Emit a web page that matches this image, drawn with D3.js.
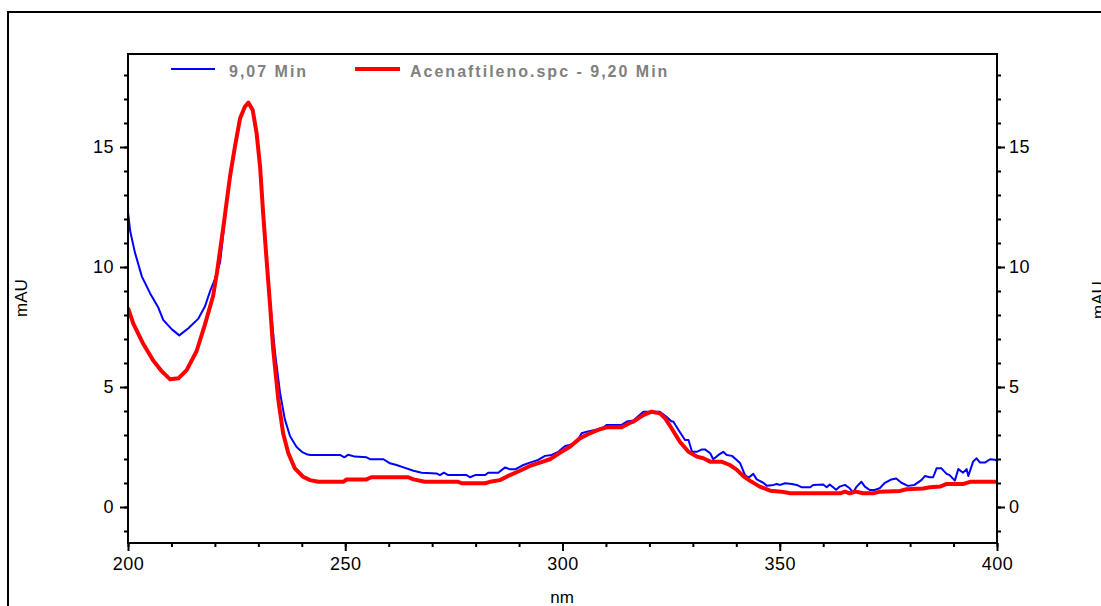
<!DOCTYPE html>
<html>
<head>
<meta charset="utf-8">
<title>Acenaftileno</title>
<script src="https://d3js.org/d3.v7.min.js"></script>
<style>
    body { margin: 0; background: white; }
    text { font-family: "Liberation Sans", Arial, sans-serif; }
    .axis text { font-size: 18px; fill: black; letter-spacing: 0.5px; }
    .axis path { display: none; }
    .axis line { stroke: black; stroke-width: 2px; }
    .legend { font-size: 16px; font-weight: bold; fill: #808080; letter-spacing: 2px; }
</style>
</head>
<body>
<script>
    // 9,07 Min (blue)
    let blueNm = [200, 200.5, 201.6, 203.2, 205.1, 207, 208.1, 210.1, 211.8, 213.9, 216.2, 217.7, 218.9, 220, 221.2, 222,
        223.5, 224.6, 225.8, 226.9, 227.7, 228.7, 229.6, 230.4, 231.1, 231.9, 232.7, 233.8, 235, 236.1, 237.3, 238.8, 240, 241.1, 242,
        248.8, 249.8, 250.7, 252.2, 254.9, 255.7, 258.8, 260.3, 261.8, 263.4, 265.7, 267.6, 271, 271.8, 272.7, 273.7, 277.9, 278.7, 279.9,
        282.2, 282.9, 285.2, 286.8, 287.9, 289.1, 291, 292.5, 294.4, 296, 297.5, 299, 300.6, 301.7, 303.3, 304.4, 305.6, 307.5, 309.4,
        310.2, 313.6, 314.8, 316.3, 318.6, 322.4, 324, 325.1, 325.5, 326.7, 328.2, 329, 329.8, 330.9, 332.1, 332.8, 334, 334.7, 335.9,
        337, 337.8, 339, 340.1, 340.9, 342, 342.8, 343.9, 344.7, 346.2, 347, 348.6, 349.3, 350.1, 351.2, 352.8, 353.9, 355.1, 357, 357.7,
        360, 360.8, 361.5, 363, 363.8, 365, 366.1, 366.9, 367.7, 368.8, 369.6, 370.7, 371.8, 373, 374.1, 375.7, 376.8, 378, 379.5, 381,
        382.6, 383.4, 384.5, 385.3, 386.1, 387.2, 388.4, 389.1, 390.3, 391.1, 392.2, 393, 393.4, 394.5, 395.3, 396.1, 397.2, 398.4, 399.5, 400];
    let blueAU = [12.3, 11.5, 10.6, 9.6, 8.9, 8.3, 7.8, 7.4, 7.15, 7.45, 7.85, 8.35, 9.0, 9.5, 10.2, 11.5,
        13.9, 15.1, 16.25, 16.7, 16.8, 16.5, 15.6, 14.2, 12.3, 10.3, 8.6, 6.5, 4.75, 3.65, 2.95, 2.5, 2.3, 2.2, 2.17,
        2.17, 2.07, 2.18, 2.1, 2.07, 1.99, 1.99, 1.82, 1.75, 1.65, 1.51, 1.43, 1.4, 1.33, 1.43, 1.33, 1.33, 1.24, 1.33,
        1.33, 1.43, 1.43, 1.65, 1.57, 1.57, 1.75, 1.85, 1.96, 2.13, 2.17, 2.3, 2.54, 2.58, 2.72, 3.07, 3.14, 3.21, 3.31,
        3.42, 3.42, 3.56, 3.6, 3.97, 3.97, 3.75, 3.56, 3.56, 3.21, 2.79, 2.79, 2.3, 2.3, 2.4, 2.4, 2.24, 1.99, 2.17,
        2.3, 2.17, 2.13, 1.96, 1.82, 1.33, 1.22, 1.38, 1.15, 1.01, 0.89, 0.92, 0.96, 0.92, 0.99, 0.96, 0.92, 0.82, 0.82, 0.92,
        0.94, 0.82, 0.94, 0.72, 0.85, 0.92, 0.78, 0.6, 0.85, 1.05, 0.85, 0.71, 0.71, 0.78, 0.99, 1.15, 1.19, 1.01, 0.88, 0.92,
        1.12, 1.29, 1.24, 1.24, 1.61, 1.61, 1.38, 1.33, 1.1, 1.58, 1.43, 1.58, 1.29, 1.89, 2.03, 1.85, 1.85, 1.99, 1.97, 1.92];

    // Acenaftileno.spc - 9,20 Min (red)
    let redNm = [200, 201.2, 203.5, 205.8, 207.8, 209.7, 211.6, 213.5, 215.8, 217.7, 219.6, 220.5, 221.9, 223.5, 224.6, 225.8,
        226.9, 227.7, 228.7, 229.6, 230.4, 231.1, 231.9, 232.7, 233.4, 234.6, 235.7, 236.9, 238.4, 240.3, 241.9, 243.8, 249.6, 250.3,
        254.9, 256, 264.5, 265.7, 268.3, 276, 276.8, 282.2, 283.3, 285.6, 287.9, 290.2, 292.5, 294.8, 297.1, 299.4, 301.7, 304, 306.3,
        308.6, 310.2, 313.6, 315.5, 316.3, 318.6, 320.5, 322.4, 323.6, 325.1, 327, 329, 330.9, 332.4, 334, 336.6, 338.5, 340, 341.6,
        343.1, 345.4, 347.8, 350.4, 352.4, 363.9, 365, 366.1, 367.5, 369.2, 371.5, 373.1, 377.7, 379.2, 383, 384.6, 386.9, 388.4,
        392.3, 393.8, 400];
    let redAU = [8.3, 7.65, 6.8, 6.1, 5.65, 5.32, 5.36, 5.7, 6.5, 7.6, 8.8, 9.8, 11.6, 13.8, 15.0, 16.2,
        16.68, 16.85, 16.54, 15.57, 14.18, 12.24, 10.29, 8.4, 6.6, 4.46, 3.07, 2.24, 1.61, 1.26, 1.12, 1.05, 1.05, 1.15,
        1.15, 1.24, 1.24, 1.15, 1.05, 1.05, 0.99, 0.99, 1.05, 1.12, 1.33, 1.51, 1.71, 1.85, 1.99, 2.26, 2.51, 2.86, 3.07,
        3.24, 3.32, 3.32, 3.5, 3.56, 3.83, 3.97, 3.9, 3.7, 3.28, 2.72, 2.3, 2.1, 2.03, 1.89, 1.89, 1.75, 1.57, 1.29,
        1.1, 0.85, 0.68, 0.64, 0.57, 0.57, 0.64, 0.57, 0.64, 0.57, 0.57, 0.64, 0.67, 0.74, 0.77, 0.82, 0.85, 0.96,
        0.96, 1.05, 1.05];

    let xTicks = [200, 250, 300, 350, 400];
    let yTicks = [0, 5, 10, 15];
    let legendNames = ["9,07 Min", "Acenaftileno.spc - 9,20 Min"];

    let W = 1101, H = 606;
    let pLeft = 128, pRight = 997, pTop = 54, pBottom = 543;

    let svg = d3.select("body").append("svg").attr("width", W).attr("height", H);

    // outer frame
    svg.append("rect")
        .attr("x", 8).attr("y", 12)
        .attr("width", 1200).attr("height", 700)
        .attr("fill", "none").attr("stroke", "black").attr("stroke-width", 2);

    let x = d3.scaleLinear().domain([200, 400]).range([pLeft, pRight]);
    let y = d3.scaleLinear().domain([-1.5, 18.875]).range([pBottom, pTop]);

    // minor ticks
    svg.append("g").attr("class", "axis").attr("transform", "translate(0," + pBottom + ")")
        .call(d3.axisBottom(x).tickValues(d3.range(200, 401, 10)).tickSize(4).tickFormat(""));
    svg.append("g").attr("class", "axis").attr("transform", "translate(" + pLeft + ",0)")
        .call(d3.axisLeft(y).tickValues(d3.range(-1, 19, 1)).tickSize(4).tickFormat(""));
    svg.append("g").attr("class", "axis").attr("transform", "translate(" + pRight + ",0)")
        .call(d3.axisRight(y).tickValues(d3.range(-1, 19, 1)).tickSize(4).tickFormat(""));

    // major ticks
    svg.append("g").attr("class", "axis").attr("transform", "translate(0," + pBottom + ")")
        .call(d3.axisBottom(x).tickValues(xTicks).tickSize(8).tickPadding(6).tickFormat(d3.format("d")));
    svg.append("g").attr("class", "axis").attr("transform", "translate(" + pLeft + ",0)")
        .call(d3.axisLeft(y).tickValues(yTicks).tickSize(8).tickPadding(6).tickFormat(d3.format("d")));
    svg.append("g").attr("class", "axis").attr("transform", "translate(" + pRight + ",0)")
        .call(d3.axisRight(y).tickValues(yTicks).tickSize(8).tickPadding(4).tickFormat(d3.format("d")));

    svg.append("defs").append("clipPath").attr("id", "clip")
        .append("rect").attr("x", pLeft).attr("y", pTop)
        .attr("width", pRight - pLeft).attr("height", pBottom - pTop);

    let line = d3.line().x(d => x(d[0])).y(d => y(d[1]));
    let plot = svg.append("g").attr("clip-path", "url(#clip)");

    plot.append("path")
        .datum(blueNm.map((v, i) => [v, blueAU[i]]))
        .attr("d", line)
        .attr("fill", "none").attr("stroke", "#0000ff").attr("stroke-width", 2)
        .attr("stroke-linejoin", "round");

    plot.append("path")
        .datum(redNm.map((v, i) => [v, redAU[i]]))
        .attr("d", line)
        .attr("fill", "none").attr("stroke", "#ff0000").attr("stroke-width", 4)
        .attr("stroke-linejoin", "round");

    // plot box
    svg.append("rect")
        .attr("x", pLeft).attr("y", pTop)
        .attr("width", pRight - pLeft).attr("height", pBottom - pTop)
        .attr("fill", "none").attr("stroke", "black").attr("stroke-width", 2);

    // legend
    let leg = svg.append("g");
    leg.append("line").attr("x1", 171).attr("x2", 215).attr("y1", 69).attr("y2", 69)
        .attr("stroke", "#0000ff").attr("stroke-width", 2);
    leg.append("text").attr("class", "legend").attr("x", 229).attr("y", 77).text(legendNames[0]);
    leg.append("line").attr("x1", 355).attr("x2", 400).attr("y1", 69).attr("y2", 69)
        .attr("stroke", "#ff0000").attr("stroke-width", 4);
    leg.append("text").attr("class", "legend").attr("x", 410).attr("y", 77).text(legendNames[1]);

    // axis titles
    svg.append("text").attr("x", 562).attr("y", 603)
        .attr("text-anchor", "middle").style("font-size", "17px").text("nm");
    svg.append("text").attr("transform", "translate(27,298) rotate(-90)")
        .attr("text-anchor", "middle").style("font-size", "17px").text("mAU");
    svg.append("text").attr("transform", "translate(1104,300) rotate(-90)")
        .attr("text-anchor", "middle").style("font-size", "17px").text("mAU");
</script>
</body>
</html>
